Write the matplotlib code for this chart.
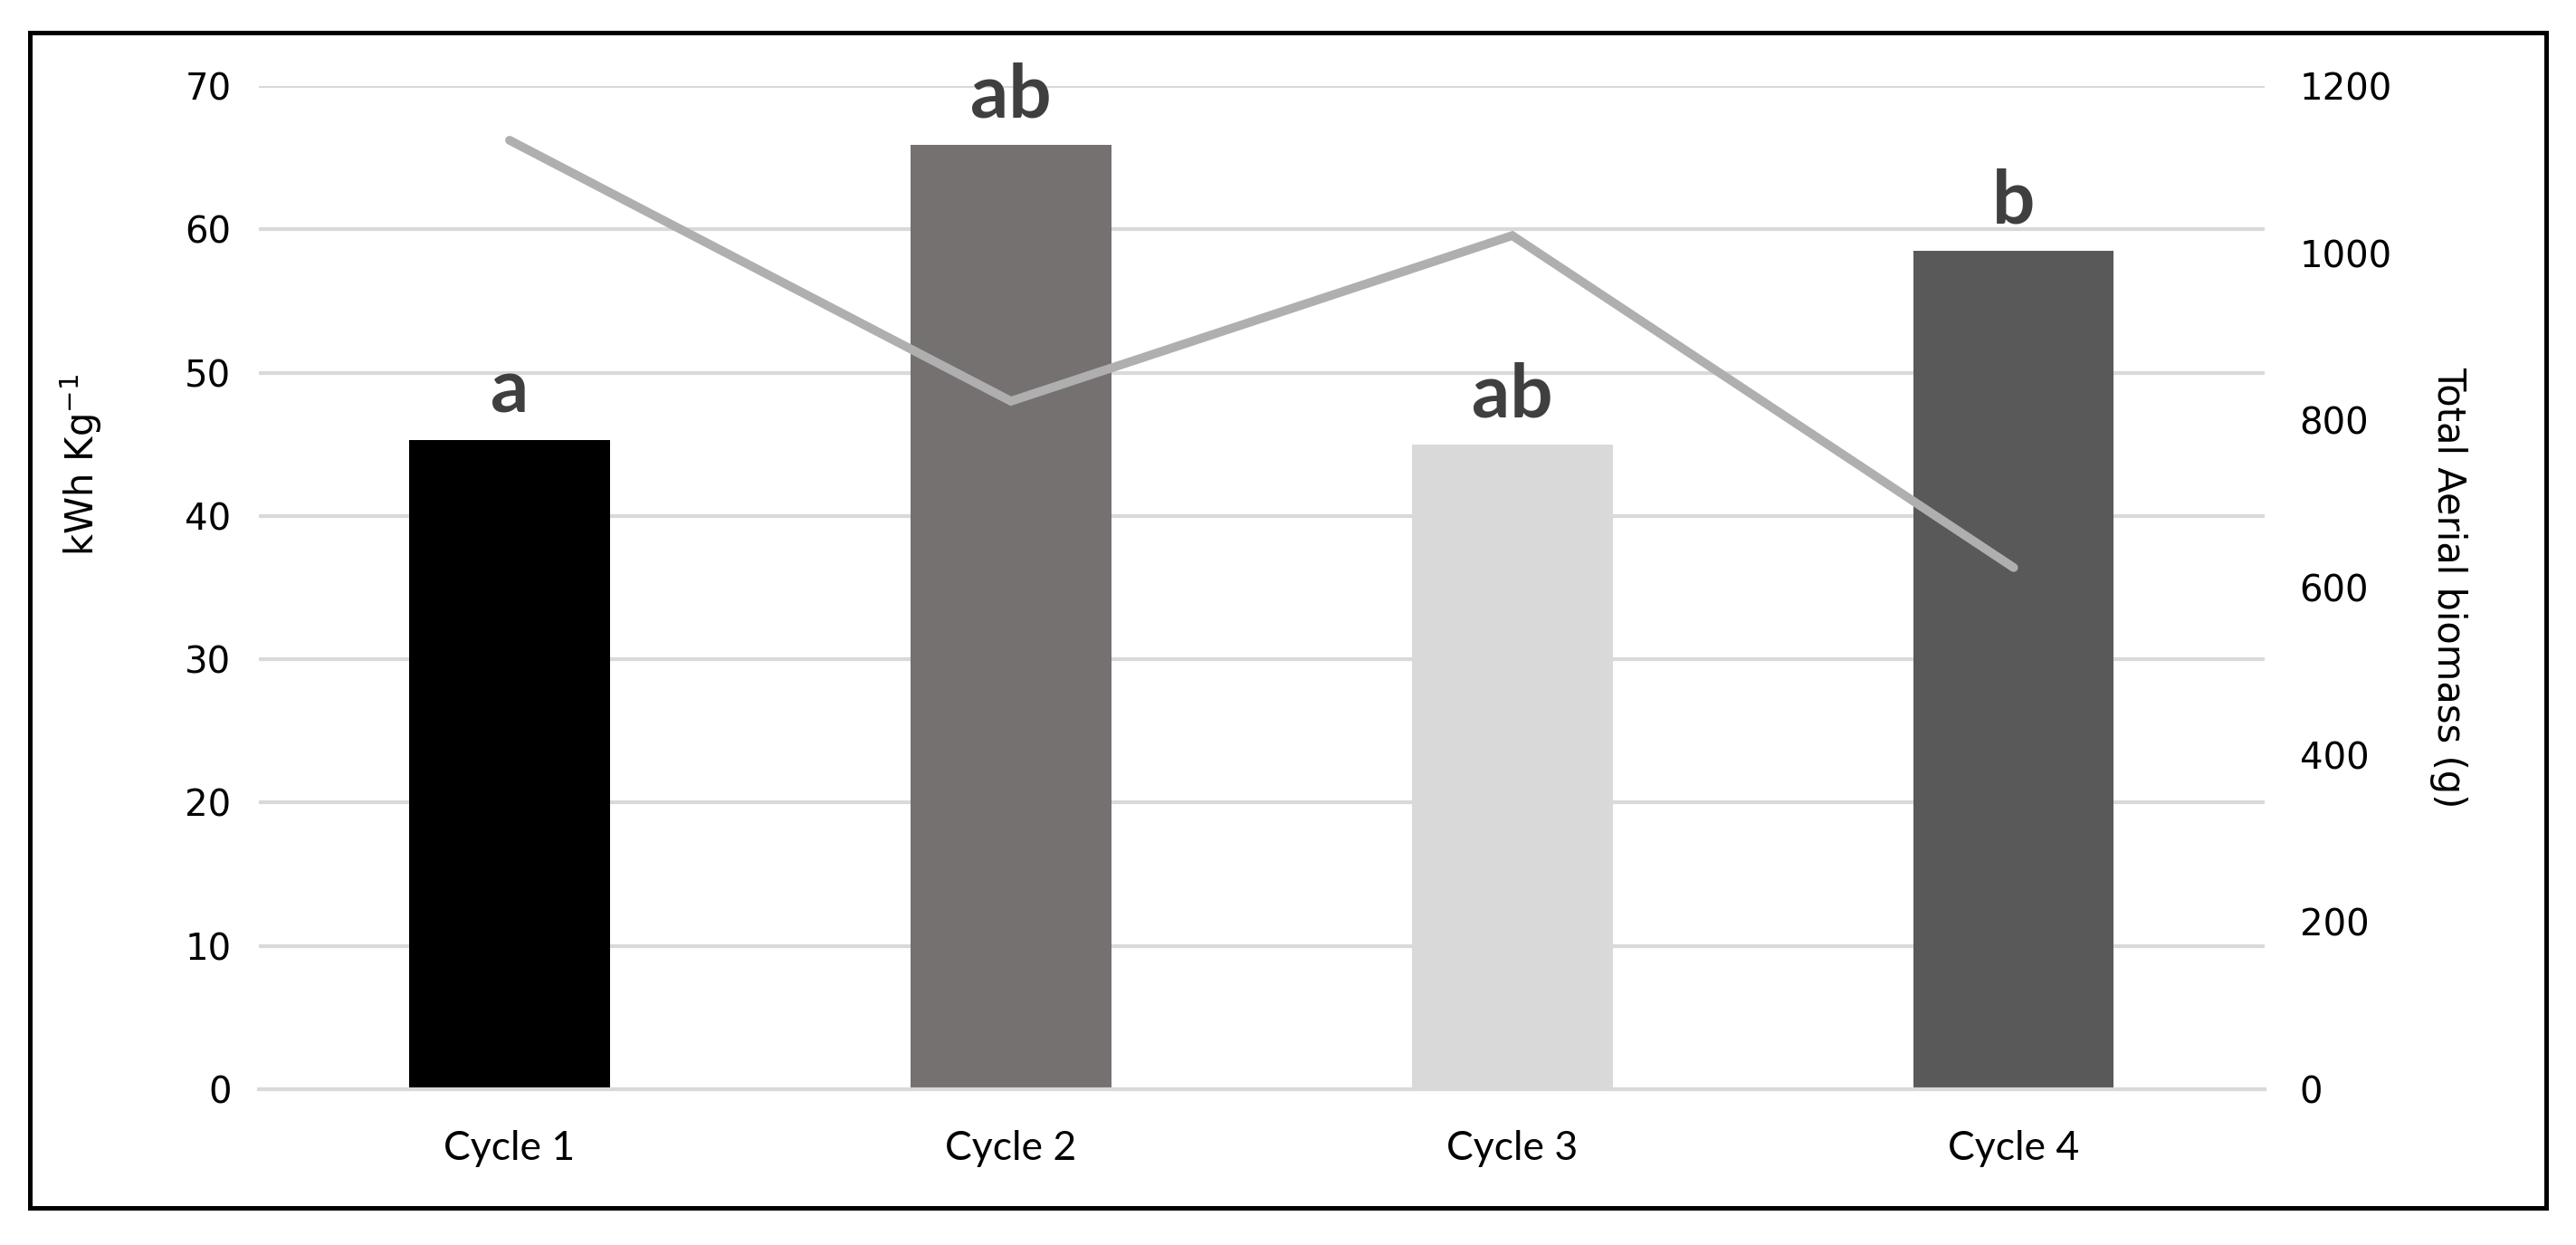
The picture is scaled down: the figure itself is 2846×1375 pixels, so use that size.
import matplotlib
matplotlib.use("Agg")
import matplotlib.pyplot as plt
from matplotlib.patches import Rectangle

# data
cycles = ["Cycle 1", "Cycle 2", "Cycle 3", "Cycle 4"]
energy = [45.3, 65.9, 45.0, 58.5]          # kWh Kg-1 (bars, left axis)
biomass = [1135, 823, 1021, 624]          # Total Aerial biomass g (line, right axis)
letters = ["a", "ab", "ab", "b"]
bar_colors = ["#000000", "#767171", "#d9d9d9", "#595959"]

narrow = ["Lato", "DejaVu Sans"]

fig = plt.figure(figsize=(14.23, 6.875), dpi=200)
ax = fig.add_axes([0.1005, 0.125, 0.7785, 0.806])
ax2 = ax.twinx()

x = range(len(cycles))
bars = ax.bar(x, energy, width=0.4, color=bar_colors, zorder=2)
ax2.plot(x, biomass, color="#afafaf", lw=3.5, solid_capstyle="round",
         solid_joinstyle="miter", zorder=3)

# significance letters on top of bars
for xi, v, lab in zip(x, energy, letters):
    ax.annotate(lab, (xi, v), xytext=(0, 11), textcoords="offset points",
                ha="center", va="baseline", fontsize=30, fontweight="bold",
                color="#3f3f3f", family=narrow)

ax.set_xlim(-0.5, 3.5)
ax.set_ylim(0, 70)
ax.set_yticks(range(0, 71, 10))
ax2.set_ylim(0, 1200)
ax2.set_yticks(range(0, 1201, 200))

ax.grid(axis="y", color="#d9d9d9", lw=1.5, zorder=0)
ax.set_axisbelow(True)
for a in (ax, ax2):
    for s in a.spines.values():
        s.set_visible(False)
ax.spines["bottom"].set_visible(True)
ax.spines["bottom"].set_color("#d9d9d9")
ax.spines["bottom"].set_linewidth(1.5)

ax.tick_params(axis="y", length=0, pad=11, labelsize=14.5)
ax2.tick_params(axis="y", length=0, pad=14, labelsize=14.5)
ax.tick_params(axis="x", length=0, pad=16)
ax.set_xticks(list(x))
ax.set_xticklabels(cycles, fontsize=16, family=narrow)

ax.set_ylabel("kWh Kg$^{\\mathregular{-1}}$", fontsize=15)
ax.yaxis.set_label_coords(-0.077, 0.622)
ax2.set_ylabel("Total Aerial biomass (g)", fontsize=15, rotation=270, labelpad=30)

# black frame around the whole chart
fig.patches.append(Rectangle((33 / 2846, 1 - 1334 / 1375), (2813 - 33) / 2846,
                             (1334 - 36) / 1375, transform=fig.transFigure,
                             fill=False, edgecolor="black", lw=1.8))

fig.savefig("out.png", dpi=200, facecolor="white")
